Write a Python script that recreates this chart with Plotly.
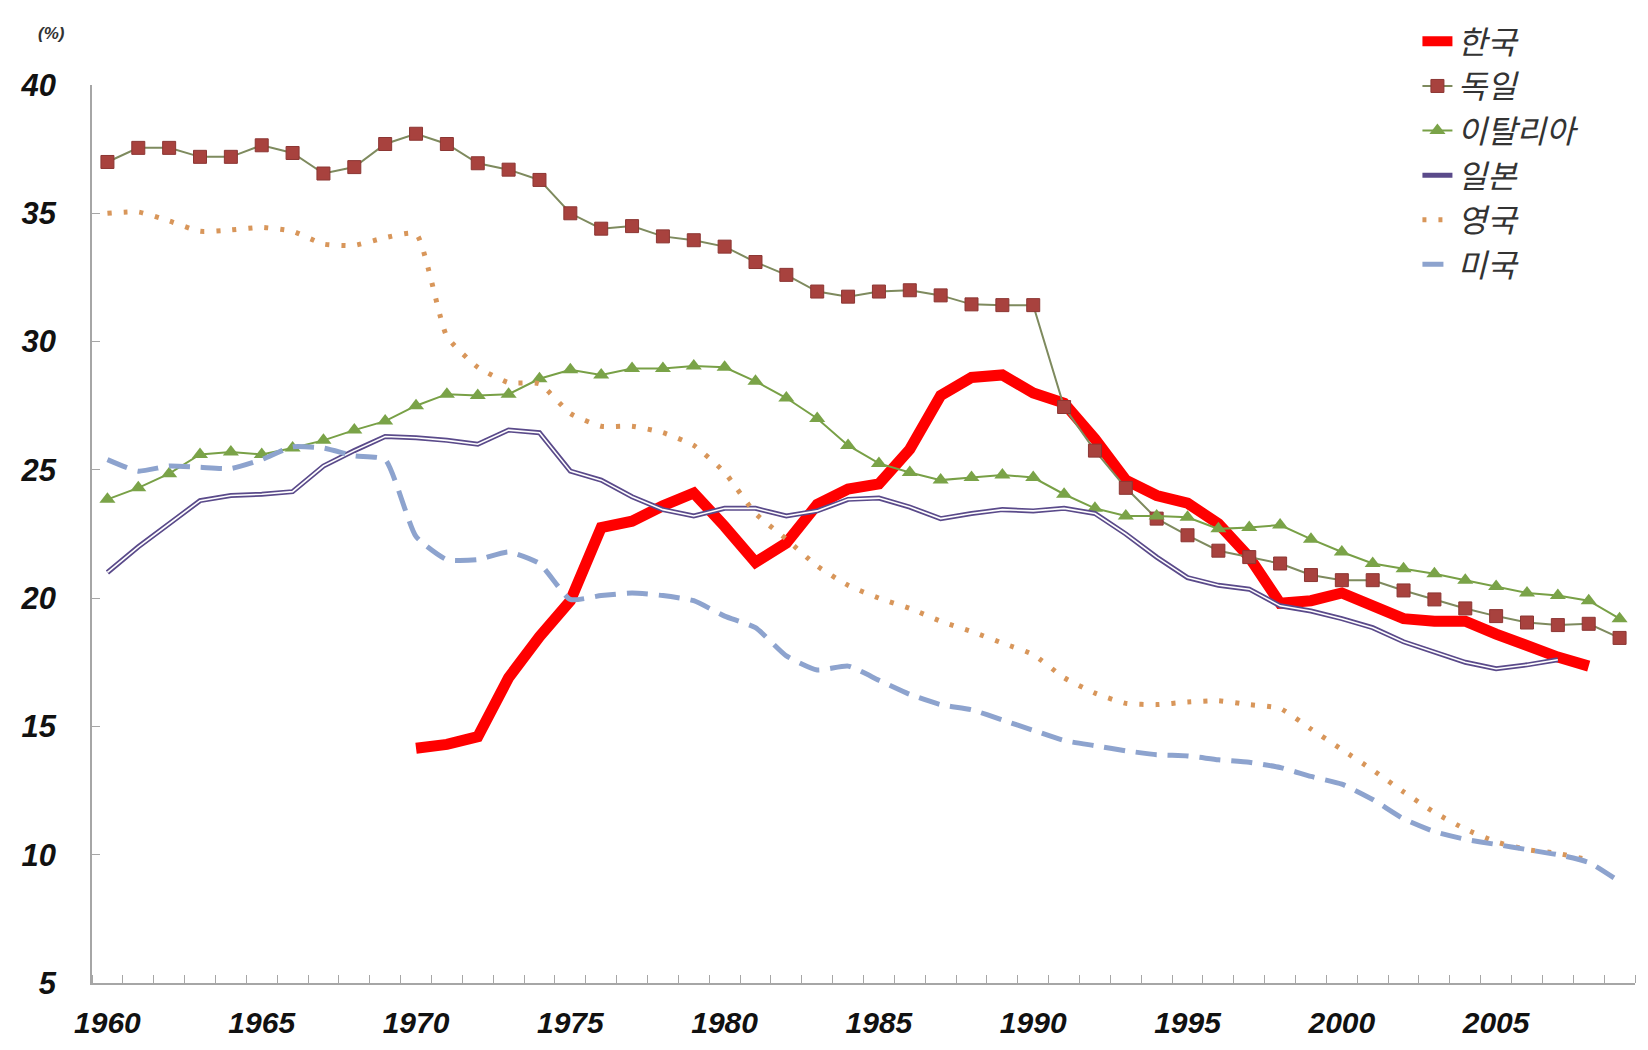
import plotly.graph_objects as go

years = list(range(1960, 2010))

korea = [None] * 10 + [
    14.15, 14.3, 14.6, 16.9, 18.5, 19.9, 22.75, 23.0, 23.6, 24.1,
    22.8, 21.4, 22.15, 23.65, 24.25, 24.45, 25.8, 27.9, 28.6, 28.7,
    28.0, 27.6, 26.2, 24.6, 24.0, 23.7, 22.9, 21.6, 19.8, 19.9,
    20.2, 19.75, 19.2, 19.1, 19.1, 18.6, 18.1, 17.7, 17.35, None]

germany = [
    37.0, 37.55, 37.55, 37.2, 37.2, 37.65, 37.35, 36.55, 36.8, 37.7,
    38.1, 37.7, 36.95, 36.7, 36.3, 35.0, 34.4, 34.5, 34.1, 33.95,
    33.7, 33.1, 32.6, 31.95, 31.75, 31.95, 32.0, 31.8, 31.45, 31.42,
    31.42, 27.45, 25.75, 24.3, 23.1, 22.45, 21.85, 21.6, 21.35, 20.9,
    20.7, 20.7, 20.3, 19.95, 19.6, 19.3, 19.05, 18.95, 19.0, 18.45]

italy = [
    23.85, 24.3, 24.85, 25.6, 25.7, 25.6, 25.85, 26.15, 26.55, 26.9,
    27.5, 27.95, 27.9, 27.95, 28.55, 28.9, 28.7, 28.95, 28.95, 29.05,
    29.0, 28.45, 27.8, 27.0, 25.95, 25.25, 24.9, 24.6, 24.7, 24.8,
    24.7, 24.05, 23.5, 23.2, 23.2, 23.15, 22.7, 22.75, 22.85, 22.3,
    21.8, 21.35, 21.15, 20.95, 20.7, 20.45, 20.2, 20.1, 19.9, 19.2]

japan = [
    21.0, 22.0, 22.9, 23.8, 24.0, 24.05, 24.15, 25.15, 25.75, 26.3,
    26.25, 26.15, 26.0, 26.55, 26.45, 24.95, 24.6, 23.95, 23.45, 23.2,
    23.5, 23.5, 23.2, 23.4, 23.85, 23.9, 23.55, 23.1, 23.3, 23.45,
    23.4, 23.5, 23.3, 22.5, 21.6, 20.8, 20.5, 20.35, 19.7, 19.5,
    19.2, 18.85, 18.3, 17.9, 17.5, 17.25, 17.4, 17.6, None, None]

uk = [
    35.0, 35.05, 34.7, 34.3, 34.35, 34.45, 34.3, 33.8, 33.75, 34.05,
    34.2, 30.2, 29.0, 28.4, 28.35, 27.2, 26.7, 26.7, 26.45, 25.95,
    24.9, 23.3, 22.3, 21.25, 20.5, 20.0, 19.6, 19.1, 18.7, 18.25,
    17.8, 16.9, 16.3, 15.9, 15.85, 15.95, 16.0, 15.85, 15.7, 14.9,
    14.1, 13.3, 12.45, 11.65, 11.0, 10.5, 10.2, 10.05, 9.8, None]

us = [
    25.4, 24.95, 25.15, 25.1, 25.05, 25.4, 25.9, 25.85, 25.55, 25.4,
    22.4, 21.5, 21.5, 21.8, 21.35, 19.95, 20.1, 20.2, 20.1, 19.9,
    19.3, 18.85, 17.75, 17.2, 17.35, 16.8, 16.25, 15.85, 15.65, 15.25,
    14.85, 14.45, 14.25, 14.05, 13.9, 13.85, 13.7, 13.6, 13.4, 13.05,
    12.75, 12.15, 11.4, 10.9, 10.6, 10.4, 10.2, 10.0, 9.7, 8.95]

x_label_years = list(range(1960, 2010, 5))
y_ticks = list(range(5, 45, 5))

y_tick_font = dict(family="Liberation Sans, Arial, sans-serif", size=31,
                   color="#111111", weight="bold", style="italic")
x_tick_font = dict(family="Liberation Sans, Arial, sans-serif", size=30,
                   color="#111111", weight="bold", style="italic")
axis_color = "#A6A6A6"

fig = go.Figure()
fig.add_trace(go.Scatter(
    x=years, y=korea, name="한국", mode="lines",
    line=dict(color="#FF0000", width=11)))
fig.add_trace(go.Scatter(
    x=years, y=germany, name="독일", mode="lines+markers",
    line=dict(color="#7E8A5E", width=2),
    marker=dict(symbol="square", size=13, color="#A8423E",
                line=dict(color="#8C3633", width=1))))
fig.add_trace(go.Scatter(
    x=years, y=italy, name="이탈리아", mode="lines+markers",
    line=dict(color="#78A046", width=2),
    marker=dict(symbol="triangle-up", size=14, color="#7AA348")))
fig.add_trace(go.Scatter(
    x=years, y=japan, name="일본", mode="lines",
    line=dict(color="#5A4A8A", width=5)))
fig.add_trace(go.Scatter(
    x=years, y=japan, mode="lines", showlegend=False,
    hoverinfo="skip", line=dict(color="#FFFFFF", width=1.6)))
fig.add_trace(go.Scatter(
    x=years, y=uk, name="영국", mode="lines",
    line=dict(color="#D8965A", width=5, dash="4px,12px",
              shape="spline", smoothing=0.5)))
fig.add_trace(go.Scatter(
    x=years, y=us, name="미국", mode="lines",
    line=dict(color="#8DA3CE", width=5, dash="21px,11px",
              shape="spline", smoothing=0.5)))

fig.update_layout(
    width=1632, height=1034,
    margin=dict(l=84, r=5, t=77, b=59, autoexpand=False),
    plot_bgcolor="white", paper_bgcolor="white",
    showlegend=True,
    legend=dict(x=0.859, y=1.079, xanchor="left", yanchor="top",
                font=dict(family="Noto Sans CJK KR", size=32, color="#333333",
                          style="italic"),
                tracegroupgap=0, bgcolor="rgba(0,0,0,0)"),
    xaxis=dict(range=[1959.5, 2009.5], tickmode="array",
               tickvals=x_label_years, ticktext=[str(v) for v in x_label_years],
               ticks="", showgrid=False, zeroline=False,
               showline=True, linecolor=axis_color, linewidth=1.5,
               minor=dict(tick0=1959.5, dtick=1, ticks="inside", ticklen=8,
                          tickcolor=axis_color, showgrid=False),
               tickfont=x_tick_font, ticklabelstandoff=12),
    yaxis=dict(range=[5, 40], tickmode="array", tickvals=y_ticks,
               ticks="inside", ticklen=8, tickcolor=axis_color,
               showgrid=False, zeroline=False,
               showline=True, linecolor=axis_color, linewidth=1.5,
               tickfont=y_tick_font, ticklabelstandoff=28),
    annotations=[dict(text="(%)", xref="paper", yref="paper",
                      x=-0.026, y=1.057, xanchor="center", yanchor="middle",
                      showarrow=False,
                      font=dict(family="Liberation Sans, Arial", size=17,
                                color="#333333", style="italic",
                                weight="bold"))],
)

fig.write_html("out.html")
